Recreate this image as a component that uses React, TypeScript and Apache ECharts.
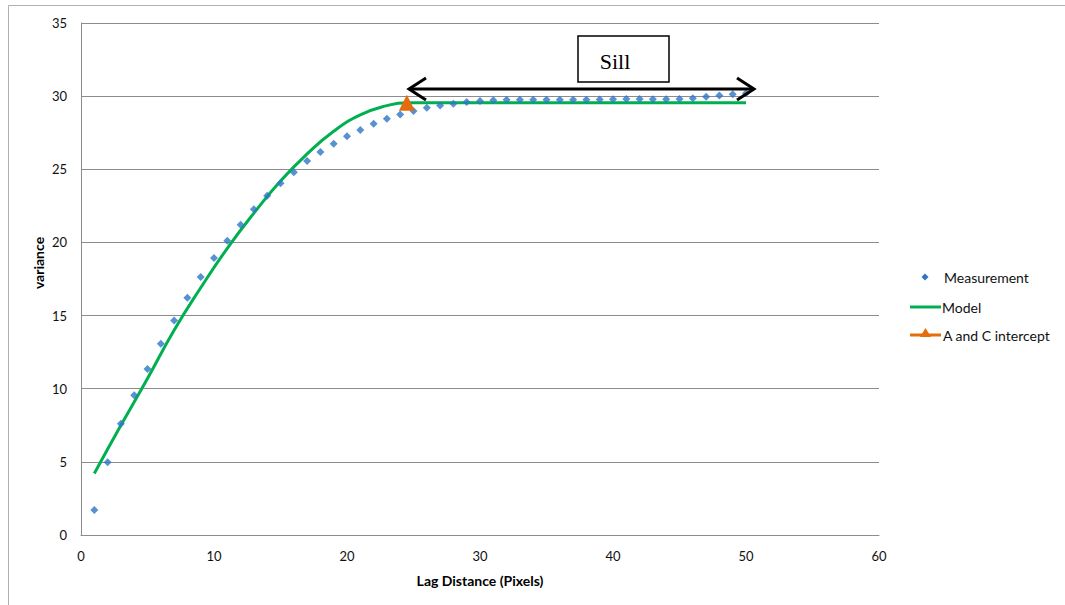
import React, { useEffect, useRef } from "react";
import * as echarts from "echarts";

const lagDistance = [
  1, 2, 3, 4, 5, 6, 7, 8, 9, 10, 11, 12, 13, 14, 15, 16, 17, 18, 19, 20, 21, 22, 23, 24, 25,
  26, 27, 28, 29, 30, 31, 32, 33, 34, 35, 36, 37, 38, 39, 40, 41, 42, 43, 44, 45, 46, 47, 48, 49, 50,
];
const measuredVariance = [
  1.71, 4.97, 7.61, 9.55, 11.35, 13.08, 14.67, 16.22, 17.64, 18.93, 20.12, 21.21, 22.26, 23.19, 24.04,
  24.79, 25.56, 26.18, 26.75, 27.25, 27.68, 28.12, 28.46, 28.75, 28.98, 29.21, 29.36, 29.48, 29.6, 29.67,
  29.72, 29.75, 29.76, 29.76, 29.75, 29.75, 29.75, 29.76, 29.77, 29.79, 29.8, 29.8, 29.78, 29.78, 29.8,
  29.86, 29.95, 30.05, 30.13, 30.2,
];

// Model curve, read at sampled lags
const modelLag = [1, 3, 5, 7, 9, 11, 13, 15, 17, 19, 21, 23, 24.5, 26, 30, 35, 40, 45, 50];
const modelVariance = [
  4.2, 7.5, 10.7, 14.0, 16.9, 19.6, 22.0, 24.2, 26.05, 27.6, 28.72, 29.35, 29.55, 29.55, 29.55, 29.55,
  29.55, 29.55, 29.55,
];

// A and C intercept
const interceptLag = [24.5];
const interceptVariance = [29.55];

const seriesNames = ["Measurement", "Model", "A and C intercept"];

const FONT = 'Lato, "Liberation Sans", sans-serif';
const BLUE = "#2e75c6";
const GREEN = "#00b050";
const ORANGE = "#e46c0a";

export default function App() {
  const ref = useRef<HTMLDivElement>(null);

  useEffect(() => {
    if (!ref.current) return;
    const chart = echarts.init(ref.current, undefined, { renderer: "svg" });
    const gray = "#8c8c8c";
    const legendText = (y: number, x: number, text: string) => ({
      type: "text",
      x,
      y,
      style: { text, fontFamily: FONT, fontSize: 14, fill: "#111", align: "left", verticalAlign: "middle" },
      z: 10,
    });
    chart.setOption({
      animation: false,
      backgroundColor: "#ffffff",
      grid: { left: 81, right: 186, top: 23, bottom: 70, containLabel: false },
      xAxis: {
        type: "value",
        min: 0,
        max: 60,
        interval: 10,
        name: "Lag Distance (Pixels)",
        nameLocation: "middle",
        nameGap: 38,
        nameTextStyle: { fontFamily: FONT, fontSize: 14, fontWeight: "bold", color: "#000", verticalAlign: "top" },
        axisLine: { show: true, lineStyle: { color: gray, width: 1 } },
        axisTick: { show: false },
        splitLine: { show: false },
        axisLabel: { fontFamily: FONT, fontSize: 13, color: "#111", margin: 14 },
      },
      yAxis: {
        type: "value",
        min: 0,
        max: 35,
        interval: 5,
        axisLine: { show: true, lineStyle: { color: gray, width: 1 } },
        axisTick: { show: false },
        splitLine: { show: true, lineStyle: { color: gray, width: 1 } },
        axisLabel: { fontFamily: FONT, fontSize: 13, color: "#111", margin: 14 },
      },
      series: [
        {
          name: seriesNames[0],
          type: "scatter",
          data: lagDistance.map((x, i) => [x, measuredVariance[i]]),
          symbol: "diamond",
          symbolSize: 8,
          itemStyle: { color: BLUE },
          z: 4,
        },
        {
          name: seriesNames[1],
          type: "line",
          data: modelLag.map((x, i) => [x, modelVariance[i]]),
          smooth: 0.5,
          showSymbol: false,
          symbol: "none",
          lineStyle: { color: GREEN, width: 3 },
          itemStyle: { color: GREEN },
          z: 3,
        },
        {
          name: seriesNames[2],
          type: "line",
          data: interceptLag.map((x, i) => [x, interceptVariance[i]]),
          symbol: "triangle",
          symbolSize: 16,
          showSymbol: true,
          lineStyle: { color: ORANGE, width: 3 },
          itemStyle: { color: ORANGE },
          z: 5,
        },
      ],
      graphic: [
        {
          type: "rect",
          shape: { x: 8.5, y: 5.5, width: 1100, height: 650 },
          style: { fill: "none", stroke: "#b0b0b0", lineWidth: 1 },
          silent: true,
          z: -10,
        },
        {
          type: "text",
          x: 38,
          y: 263,
          rotation: Math.PI / 2,
          style: {
            text: "variance",
            fontFamily: FONT,
            fontSize: 14,
            fontWeight: "bold",
            fill: "#000",
            align: "center",
            verticalAlign: "middle",
          },
        },
        // Sill annotation
        {
          type: "line",
          shape: { x1: 409, y1: 89, x2: 754, y2: 89 },
          style: { stroke: "#000", lineWidth: 3 },
          z: 10,
        },
        {
          type: "polyline",
          shape: { points: [[426, 78], [409, 89], [426, 100]] },
          style: { stroke: "#000", lineWidth: 3, fill: "none" },
          z: 10,
        },
        {
          type: "polyline",
          shape: { points: [[737, 78], [754, 89], [737, 100]] },
          style: { stroke: "#000", lineWidth: 3, fill: "none" },
          z: 10,
        },
        {
          type: "rect",
          shape: { x: 578, y: 36, width: 91, height: 46 },
          style: { fill: "#fff", stroke: "#000", lineWidth: 1.5 },
          z: 10,
        },
        {
          type: "text",
          x: 615,
          y: 61,
          style: {
            text: "Sill",
            fontFamily: '"Liberation Serif", "DejaVu Serif", serif',
            fontSize: 22,
            fill: "#000",
            align: "center",
            verticalAlign: "middle",
          },
          z: 11,
        },
        // Legend
        {
          type: "polygon",
          shape: { points: [[925, 273.5], [928.5, 277], [925, 280.5], [921.5, 277]] },
          style: { fill: BLUE },
          z: 10,
        },
        legendText(277, 944, seriesNames[0]),
        {
          type: "line",
          shape: { x1: 910, y1: 307, x2: 941, y2: 307 },
          style: { stroke: GREEN, lineWidth: 3 },
          z: 10,
        },
        legendText(307, 942, seriesNames[1]),
        {
          type: "line",
          shape: { x1: 910, y1: 335, x2: 941, y2: 335 },
          style: { stroke: ORANGE, lineWidth: 3 },
          z: 10,
        },
        {
          type: "polygon",
          shape: { points: [[925.5, 328], [931, 337], [920, 337]] },
          style: { fill: ORANGE },
          z: 11,
        },
        legendText(335, 943, seriesNames[2]),
      ],
    });
    return () => chart.dispose();
  }, []);

  return (
    <div
      ref={ref}
      style={{ position: "fixed", left: 0, top: 0, width: 1065, height: 605, background: "#fff" }}
    />
  );
}
